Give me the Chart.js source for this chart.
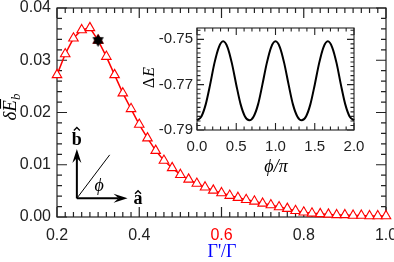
<!DOCTYPE html>
<html>
<head>
<meta charset="utf-8">
<script src="https://cdn.jsdelivr.net/npm/chart.js@4.4.0/dist/chart.umd.min.js"></script>
<style>
    html, body { margin: 0; padding: 0; background: #fff; }
    #wrap { position: relative; width: 394px; height: 262px; overflow: hidden; }
    #main { position: absolute; left: 0; top: 0; }
    #inset { position: absolute; left: 140px; top: 20px; }
</style>
</head>
<body>
<div id="wrap">
    <canvas id="main" width="394" height="262"></canvas>
    <canvas id="inset" width="230" height="160"></canvas>
</div>
<script>
// Main panel: delta E_b vs Gamma'/Gamma
const ratio = [0.20, 0.22, 0.24, 0.26, 0.28, 0.30, 0.32, 0.34, 0.36, 0.38,
               0.40, 0.42, 0.44, 0.46, 0.48, 0.50, 0.52, 0.54, 0.56, 0.58,
               0.60, 0.62, 0.64, 0.66, 0.68, 0.70, 0.72, 0.74, 0.76, 0.78,
               0.80, 0.82, 0.84, 0.86, 0.88, 0.90, 0.92, 0.94, 0.96, 0.98, 1.00];
const deltaEb = [0.0272, 0.0312, 0.0342, 0.0358, 0.0362, 0.0338, 0.0307, 0.0272, 0.0237, 0.0207,
                 0.0177, 0.0151, 0.0127, 0.0108, 0.0094, 0.0081, 0.0072, 0.0064, 0.0057, 0.0051,
                 0.0046, 0.0041, 0.0037, 0.0033, 0.0030, 0.0026, 0.0023, 0.0019, 0.0016, 0.0012,
                 0.0009, 0.0007, 0.0006, 0.0005, 0.0004, 0.0004, 0.0003, 0.0003, 0.0002, 0.0002, 0.0002];
const starX = [0.30];
const starY = [0.0338];
const mainXTicks = [0.2, 0.4, 0.6, 0.8, 1.0];
const mainYTicks = [0.00, 0.01, 0.02, 0.03, 0.04];

// Inset: Delta E vs phi/pi
const phi = [0, 0.056, 0.111, 0.167, 0.222, 0.278, 0.333, 0.389, 0.444, 0.5,
             0.556, 0.611, 0.667, 0.722, 0.778, 0.833, 0.889, 0.944, 1.0,
             1.056, 1.111, 1.167, 1.222, 1.278, 1.333, 1.389, 1.444, 1.5,
             1.556, 1.611, 1.667, 1.722, 1.778, 1.833, 1.889, 1.944, 2.0];
const deltaE = [-0.7857, -0.7840, -0.7787, -0.7700, -0.7605, -0.7535, -0.7509, -0.7535, -0.7605, -0.7700,
                -0.7787, -0.7840, -0.7857, -0.7840, -0.7787, -0.7700, -0.7605, -0.7535, -0.7509,
                -0.7535, -0.7605, -0.7700, -0.7787, -0.7840, -0.7857, -0.7840, -0.7787, -0.7700,
                -0.7605, -0.7535, -0.7509, -0.7535, -0.7605, -0.7700, -0.7787, -0.7840, -0.7857];
const insetXTicks = [0.0, 0.5, 1.0, 1.5, 2.0];
const insetYTicks = [-0.79, -0.77, -0.75];

const ink = '#222';
const sans = '"Liberation Sans", Arial, sans-serif';
const serif = '"Liberation Serif", "Times New Roman", serif';

// black six-pointed star used as point image
function hexagram(r) {
    const c = document.createElement('canvas');
    const s = Math.ceil(r * 2 + 2);
    c.width = c.height = s;
    const g = c.getContext('2d');
    g.fillStyle = '#000';
    [-90, 90].forEach(start => {
        g.beginPath();
        for (let k = 0; k < 3; k++) {
            const a = (start + k * 120) * Math.PI / 180;
            g.lineTo(s / 2 + r * Math.cos(a), s / 2 + r * Math.sin(a));
        }
        g.closePath();
        g.fill();
    });
    return c;
}

// box + inward ticks on all four sides
function frameTicks(o) {
    return {
        id: 'frameTicks',
        beforeDatasetsDraw(chart) {
            const { ctx, chartArea: a, scales: { x, y } } = chart;
            ctx.save();
            ctx.strokeStyle = ink;
            ctx.lineWidth = o.lw;
            ctx.strokeRect(a.left, a.top, a.right - a.left, a.bottom - a.top);
            ctx.beginPath();
            const nx = Math.floor((x.max - x.min) / o.xMinor + 1e-6);
            for (let i = 0; i <= nx; i++) {
                const px = x.getPixelForValue(x.min + i * o.xMinor);
                const len = i % o.xEvery === 0 ? o.major : o.minor;
                ctx.moveTo(px, a.bottom); ctx.lineTo(px, a.bottom - len);
                ctx.moveTo(px, a.top); ctx.lineTo(px, a.top + len);
            }
            const ny = Math.floor((y.max - y.min) / o.yMinor + 1e-6);
            for (let i = 0; i <= ny; i++) {
                const py = y.getPixelForValue(y.min + i * o.yMinor);
                const len = i % o.yEvery === 0 ? o.major : o.minor;
                ctx.moveTo(a.left, py); ctx.lineTo(a.left + len, py);
                ctx.moveTo(a.right, py); ctx.lineTo(a.right - len, py);
            }
            ctx.stroke();
            ctx.restore();
        }
    };
}

function arrow(ctx, x0, y0, x1, y1) {
    const ang = Math.atan2(y1 - y0, x1 - x0);
    ctx.beginPath();
    ctx.moveTo(x0, y0);
    ctx.lineTo(x1 - 9 * Math.cos(ang), y1 - 9 * Math.sin(ang));
    ctx.stroke();
    ctx.save();
    ctx.translate(x1, y1);
    ctx.rotate(ang);
    ctx.beginPath();
    ctx.moveTo(0, 0);
    ctx.lineTo(-14, -4.5);
    ctx.lineTo(-9, 0);
    ctx.lineTo(-14, 4.5);
    ctx.closePath();
    ctx.fill();
    ctx.restore();
}

function hat(ctx, cx, top) {
    ctx.beginPath();
    ctx.moveTo(cx - 3, top + 3);
    ctx.lineTo(cx, top);
    ctx.lineTo(cx + 3, top + 3);
    ctx.stroke();
}

// axis labels, titles and the a/b/phi sketch
const mainDecor = {
    id: 'mainDecor',
    afterDraw(chart) {
        const { ctx, chartArea, scales: { x, y } } = chart;
        const P = (u, v) => [x.getPixelForValue(u), y.getPixelForValue(v)];
        ctx.save();

        // x tick labels
        ctx.font = '16px ' + sans;
        ctx.textAlign = 'center';
        ctx.textBaseline = 'middle';
        mainXTicks.forEach(v => {
            ctx.fillStyle = v === 0.6 ? '#f00' : ink;
            ctx.fillText(v.toFixed(1), x.getPixelForValue(v), chartArea.bottom + 19);
        });

        ctx.fillStyle = '#00f';
        ctx.strokeStyle = '#000';

        // x title
        ctx.font = '18px ' + serif;
        ctx.textBaseline = 'alphabetic';
        ctx.fillText("\u0393'/\u0393", 222, 257);
        ctx.fillStyle = '#000';

        // y title: delta E-bar sub b
        ctx.save();
        ctx.translate(16, 107);
        ctx.rotate(-Math.PI / 2);
        ctx.textAlign = 'left';
        const big = 'italic 19px ' + serif, small = 'italic 13px ' + serif;
        ctx.font = big;
        const wd = ctx.measureText('\u03b4').width, we = ctx.measureText('E').width;
        ctx.font = small;
        const wb = ctx.measureText('b').width;
        let cx = -(wd + we + wb) / 2;
        ctx.font = big;
        ctx.fillText('\u03b4', cx, 0);
        cx += wd;
        ctx.fillText('E', cx, 0);
        ctx.lineWidth = 1.1;
        ctx.beginPath();
        ctx.moveTo(cx + 3, -15.5);
        ctx.lineTo(cx + we + 1, -15.5);
        ctx.stroke();
        cx += we;
        ctx.font = small;
        ctx.fillText('b', cx, 4);
        ctx.restore();

        // basis vectors sketch
        const o = P(0.2483, 0.00358);
        const bTip = P(0.2483, 0.01302);
        const aTip = P(0.3716, 0.00358);
        const d = P(0.3281, 0.01189);
        ctx.lineWidth = 1;
        ctx.beginPath();
        ctx.moveTo(o[0], o[1]);
        ctx.lineTo(d[0], d[1]);
        ctx.stroke();
        ctx.lineWidth = 2;
        arrow(ctx, o[0], o[1], bTip[0], bTip[1]);
        arrow(ctx, o[0], o[1], aTip[0], aTip[1]);

        ctx.font = 'bold 18px ' + serif;
        ctx.textAlign = 'center';
        const bl = P(0.2483, 0.01387);
        ctx.fillText('b', bl[0], bl[1]);
        const al = P(0.397, 0.00255);
        ctx.fillText('a', al[0], al[1]);
        ctx.lineWidth = 1.3;
        hat(ctx, bl[0], bl[1] - 17);
        hat(ctx, al[0], al[1] - 13);

        ctx.font = 'italic 18px ' + serif;
        const pl = P(0.3027, 0.0049);
        ctx.fillText('\u03d5', pl[0], pl[1]);
        ctx.restore();
    }
};

const insetDecor = {
    id: 'insetDecor',
    afterDraw(chart) {
        const { ctx } = chart;
        ctx.save();
        ctx.fillStyle = '#000';
        ctx.textBaseline = 'alphabetic';
        ctx.textAlign = 'center';
        ctx.font = 'italic 18px ' + serif;
        ctx.fillText('\u03d5/\u03c0', 136, 152);

        ctx.translate(14, 58);
        ctx.rotate(-Math.PI / 2);
        ctx.textAlign = 'left';
        ctx.font = '16px ' + serif;
        const w1 = ctx.measureText('\u0394').width;
        ctx.font = 'italic 16px ' + serif;
        const w2 = ctx.measureText('E').width;
        let cx = -(w1 + w2) / 2;
        ctx.font = '16px ' + serif;
        ctx.fillText('\u0394', cx, 0);
        ctx.font = 'italic 16px ' + serif;
        ctx.fillText('E', cx + w1 + 1, 0);
        ctx.restore();
    }
};

function fixedTicks(list) {
    return s => { s.ticks = list.map(v => ({ value: v })); };
}

new Chart(document.getElementById('main'), {
    type: 'scatter',
    data: {
        datasets: [
            {
                data: starX.map((v, i) => ({ x: v, y: starY[i] })),
                pointStyle: hexagram(6.5),
                pointRadius: 7,
                showLine: false,
                clip: false,
                order: 0
            },
            {
                data: ratio.map((v, i) => ({ x: v, y: deltaEb[i] })),
                showLine: true,
                borderColor: '#ff0000',
                borderWidth: 1.5,
                pointStyle: 'triangle',
                pointRadius: 5.5,
                pointBorderColor: '#ff0000',
                pointBackgroundColor: '#fff',
                pointBorderWidth: 1.1,
                clip: false,
                order: 1
            }
        ]
    },
    options: {
        responsive: false,
        animation: false,
        layout: { padding: { top: 5, right: 6, left: 0, bottom: 0 } },
        plugins: { legend: { display: false }, tooltip: { enabled: false } },
        scales: {
            x: {
                type: 'linear',
                min: 0.2,
                max: 1.0,
                afterBuildTicks: fixedTicks(mainXTicks),
                afterFit: s => { s.height = 45; s.paddingLeft = 0; s.paddingRight = 0; },
                grid: { display: false, drawTicks: false },
                border: { display: false },
                ticks: { display: false }
            },
            y: {
                min: 0,
                max: 0.04,
                afterBuildTicks: fixedTicks(mainYTicks),
                afterFit: s => { s.width = 57; s.paddingTop = 0; s.paddingBottom = 0; },
                grid: { display: false, drawTicks: false },
                border: { display: false },
                ticks: {
                    padding: 6,
                    color: ink,
                    autoSkip: false,
                    font: { family: sans, size: 16 },
                    callback: v => Number(v).toFixed(2)
                }
            }
        }
    },
    plugins: [frameTicks({ lw: 1.2, major: 10, minor: 5, xMinor: 0.02, xEvery: 10, yMinor: 0.002, yEvery: 5 }), mainDecor]
});

new Chart(document.getElementById('inset'), {
    type: 'scatter',
    data: {
        datasets: [{
            data: phi.map((v, i) => ({ x: v, y: deltaE[i] })),
            showLine: true,
            borderColor: '#000',
            borderWidth: 2,
            pointRadius: 0,
            cubicInterpolationMode: 'monotone',
            clip: false
        }]
    },
    options: {
        responsive: false,
        animation: false,
        layout: { padding: { top: 8, right: 16, left: 0, bottom: 0 } },
        plugins: { legend: { display: false }, tooltip: { enabled: false } },
        scales: {
            x: {
                type: 'linear',
                min: 0,
                max: 2,
                afterBuildTicks: fixedTicks(insetXTicks),
                afterFit: s => { s.height = 50; s.paddingLeft = 0; s.paddingRight = 0; },
                grid: { display: false, drawTicks: false },
                border: { display: false },
                ticks: {
                    padding: 8,
                    color: ink,
                    autoSkip: false,
                    font: { family: sans, size: 15 },
                    maxRotation: 0,
                    callback: v => Number(v).toFixed(1)
                }
            },
            y: {
                min: -0.79,
                max: -0.745,
                afterBuildTicks: fixedTicks(insetYTicks),
                afterFit: s => { s.width = 57; s.paddingTop = 0; s.paddingBottom = 0; },
                grid: { display: false, drawTicks: false },
                border: { display: false },
                ticks: {
                    padding: 4,
                    color: ink,
                    autoSkip: false,
                    font: { family: sans, size: 15 },
                    callback: v => Number(v).toFixed(2)
                }
            }
        }
    },
    plugins: [frameTicks({ lw: 1.1, major: 7, minor: 3.5, xMinor: 0.1, xEvery: 5, yMinor: 0.002, yEvery: 10 }), insetDecor]
});
</script>
</body>
</html>
